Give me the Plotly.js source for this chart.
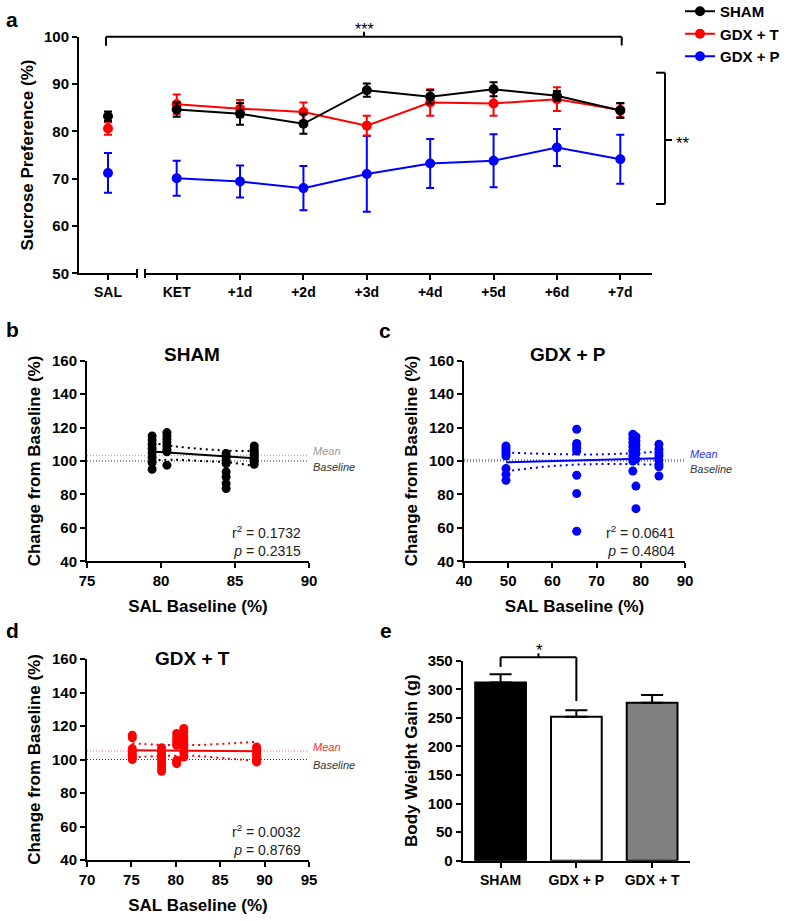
<!DOCTYPE html>
<html><head><meta charset="utf-8">
<script src="https://cdn.plot.ly/plotly-3.0.1.min.js"></script>
<style>html,body{margin:0;padding:0;background:#fff}#chart{width:787px;height:921px}</style>
</head><body><div id="chart"></div>
<script>
// ---------- DATA ----------
const salLabel = ['SAL'];
const timepoints = ['KET','+1d','+2d','+3d','+4d','+5d','+6d','+7d'];
const groups = ['SHAM','GDX + T','GDX + P'];
const salMeans = [83.2, 80.6, 71.2];
const salErrs  = [1.0, 1.3, 4.2];
const shamMeans = [84.6, 83.7, 81.6, 88.7, 87.3, 88.9, 87.5, 84.4];
const shamErrs  = [1.5, 2.3, 2.1, 1.4, 1.4, 1.5, 1.0, 1.6];
const gdxTMeans = [85.7, 84.8, 84.1, 81.2, 86.1, 85.9, 86.8, 84.5];
const gdxTErrs  = [2.1, 1.8, 2.0, 2.1, 2.8, 2.6, 2.5, 1.4];
const gdxPMeans = [70.1, 69.4, 68.0, 71.0, 73.2, 73.8, 76.6, 74.1];
const gdxPErrs  = [3.7, 3.4, 4.7, 8.0, 5.2, 5.6, 3.9, 5.2];

// panel b (SHAM)
const shamX = [79.4,79.4,79.4,79.4,79.4,79.4,79.4,79.4, 80.4,80.4,80.4,80.4,80.4,80.4,80.4,80.4,
               84.4,84.4,84.4,84.4,84.4,84.4,84.4,84.4, 86.3,86.3,86.3,86.3,86.3,86.3,86.3,86.3];
const shamY = [115,112.5,110,107.5,105,102,99,95, 117,115,113,111,109,107,105.5,97.5,
               104.5,102.5,100.5,98.5,93.5,90.5,86.5,83.5, 109,107,105.5,104,102.5,101,99.5,98];
const shamFitX = [79.4, 86.3];
const shamFitY = [105.7, 101.6];
const shamCiX = [79.4, 81, 82.8, 84.5, 86.3];
const shamCiUp = [110.8, 108.7, 107.2, 106.2, 106.0];
const shamCiLo = [100.5, 100.7, 100.0, 99.2, 97.1];
const shamMean = 103.2;
const shamStats = ['0.1732', '0.2315'];

// panel c (GDX + P)
const gdxPX = [49.5,49.5,49.5,49.5,49.5,49.5,49.5,49.5, 65.5,65.5,65.5,65.5,65.5,65.5,65.5,65.5,
               78.2,78.2,78.2,78.2,78.2,78.2,78.2,78.2, 78.9,78.9,78.9,78.9,78.9,78.9,78.9,78.9,
               84.1,84.1,84.1,84.1,84.1,84.1,84.1,84.1];
const gdxPY = [109,107.5,106,104.5,103,95.5,92,88.5, 119,110.5,109,107.5,106,91.5,80.5,58,
               116,113.5,111,108.5,106,103,100,94, 114.5,112,109.5,107,104.5,101,85,71.5,
               110,107,105,103,100.5,98,96.5,91];
const gdxPFitX = [49.5, 84.1];
const gdxPFitY = [99.2, 101.7];
const gdxPCiX = [49.5, 58, 66, 74, 84.1];
const gdxPCiUp = [105.0, 104.3, 103.9, 104.2, 105.6];
const gdxPCiLo = [93.8, 96.5, 97.9, 98.2, 97.8];
const gdxPMean = 100.8;
const gdxPStats = ['0.0641', '0.4804'];

// panel d (GDX + T)
const gdxTX = [75.1,75.1,75.1,75.1,75.1,75.1,75.1,75.1, 78.4,78.4,78.4,78.4,78.4,78.4,78.4,78.4,
               80.1,80.1,80.1,80.1,80.1,80.1,80.1,80.1, 80.9,80.9,80.9,80.9,80.9,80.9,80.9,80.9,
               89.1,89.1,89.1,89.1,89.1,89.1,89.1,89.1];
const gdxTY = [114.5,113,106.5,105,103.5,102,101,100, 107,105,103,101,99,97,95,93,
               115.5,113.5,111.5,109.5,108.5,99.5,98.5,97.5, 118.5,116.5,114,112,110,107,104,101.5,
               107.5,106,104.5,103,101.5,100,99,98.5];
const gdxTFitX = [75.1, 89.1];
const gdxTFitY = [105.5, 104.9];
const gdxTCiX = [75.1, 78, 82, 86, 89.1];
const gdxTCiUp = [109.7, 108.8, 108.6, 109.6, 110.6];
const gdxTCiLo = [101.3, 102.0, 102.2, 100.5, 99.3];
const gdxTMean = 105.1;
const gdxTStats = ['0.0032', '0.8769'];
const baselineVal = 100;

// panel e
const bwGroups = ['SHAM', 'GDX + P', 'GDX + T'];
const bwMeans = [312, 252, 276.5];
const bwErrs  = [14.5, 11.5, 13.5];

// ---------- LAYOUT HELPERS ----------
const W = 787, H = 921;
const X = p => p / W;
const Y = p => 1 - p / H;
const FONT = '"Liberation Sans", Arial, Helvetica, sans-serif';
const BLACK = '#000000', RED = '#ff0000', BLUE = '#0000ff';

function ax(extra, tsize) {
  return Object.assign({
    showline: true, linewidth: 2, linecolor: BLACK, mirror: false,
    ticks: 'outside', ticklen: 5, tickwidth: 2, tickcolor: BLACK,
    showgrid: false, zeroline: false, fixedrange: true,
    tickfont: {family: FONT, size: tsize || 15, color: BLACK, weight: 'bold'}
  }, extra);
}
function ttl(text, standoff) {
  return {text: text, standoff: standoff, font: {family: FONT, size: 17, color: BLACK, weight: 'bold'}};
}

const traces = [];
// panel a (draw blue, red, black so black is on top)
const aSeries = [
  {name: groups[2], color: BLUE, sal: salMeans[2], salErr: salErrs[2], m: gdxPMeans, e: gdxPErrs, rank: 3},
  {name: groups[1], color: RED, sal: salMeans[1], salErr: salErrs[1], m: gdxTMeans, e: gdxTErrs, rank: 2},
  {name: groups[0], color: BLACK, sal: salMeans[0], salErr: salErrs[0], m: shamMeans, e: shamErrs, rank: 1}
];
aSeries.forEach(s => {
  traces.push({
    type: 'scatter', mode: 'markers', x: salLabel, y: [s.sal], xaxis: 'x', yaxis: 'y',
    marker: {color: s.color, size: 10},
    error_y: {type: 'data', array: [s.salErr], color: s.color, thickness: 2, width: 4},
    showlegend: false, hoverinfo: 'skip', cliponaxis: false
  });
  traces.push({
    type: 'scatter', mode: 'lines+markers', x: timepoints, y: s.m, xaxis: 'x2', yaxis: 'y',
    name: s.name, legendrank: s.rank,
    line: {color: s.color, width: 2}, marker: {color: s.color, size: 10},
    error_y: {type: 'data', array: s.e, color: s.color, thickness: 2, width: 4},
    cliponaxis: false
  });
});

function scatterPanel(xa, ya, xs, ys, fitX, fitY, ciX, ciUp, ciLo, color) {
  traces.push({type: 'scatter', mode: 'markers', x: xs, y: ys, xaxis: xa, yaxis: ya,
    marker: {color: color, size: 9}, showlegend: false, hoverinfo: 'skip'});
  traces.push({type: 'scatter', mode: 'lines', x: fitX, y: fitY, xaxis: xa, yaxis: ya,
    line: {color: color, width: 2}, showlegend: false, hoverinfo: 'skip'});
  [ciUp, ciLo].forEach(c => traces.push({type: 'scatter', mode: 'lines', x: ciX, y: c, xaxis: xa, yaxis: ya,
    line: {color: color, width: 2, dash: '2px,4px', shape: 'spline'}, showlegend: false, hoverinfo: 'skip'}));
}
scatterPanel('x3', 'y3', shamX, shamY, shamFitX, shamFitY, shamCiX, shamCiUp, shamCiLo, BLACK);
scatterPanel('x4', 'y4', gdxPX, gdxPY, gdxPFitX, gdxPFitY, gdxPCiX, gdxPCiUp, gdxPCiLo, BLUE);
scatterPanel('x5', 'y5', gdxTX, gdxTY, gdxTFitX, gdxTFitY, gdxTCiX, gdxTCiUp, gdxTCiLo, RED);

// panel e
traces.push({
  type: 'bar', x: bwGroups, y: bwMeans, xaxis: 'x6', yaxis: 'y6', width: 0.67,
  marker: {color: ['#000000', '#ffffff', '#808080'], line: {color: BLACK, width: 2}},
  error_y: {type: 'data', symmetric: false, array: bwErrs, arrayminus: bwMeans.map(() => 0),
            color: BLACK, thickness: 2, width: 11},
  showlegend: false, hoverinfo: 'skip'
});

// ---------- SHAPES ----------
const shapes = [];
function pline(x0, y0, x1, y1, w) {
  shapes.push({type: 'line', xref: 'paper', yref: 'paper', x0: X(x0), y0: Y(y0), x1: X(x1), y1: Y(y1),
    line: {color: BLACK, width: w || 2}});
}
// axis break marks
pline(137, 269, 137, 278); pline(145, 269, 145, 278);
// *** bracket
pline(106, 36.7, 621.7, 36.7); pline(106, 36.7, 106, 45.7); pline(621.7, 36.7, 621.7, 45.5);
pline(364, 36.7, 364, 31.7);
// ** bracket
pline(656, 72.7, 665, 72.7); pline(665, 72.7, 665, 204); pline(656, 204, 665, 204); pline(665, 140, 672, 140);
// * bracket (panel e)
function eline(x0, x1, y0, y1) {
  shapes.push({type: 'line', xref: 'x6', yref: 'paper', x0: x0, x1: x1, y0: Y(y0), y1: Y(y1),
    line: {color: BLACK, width: 2}});
}
eline(0, 0, 667, 657.3); eline(0, 1, 657.3, 657.3); eline(1, 1, 657.3, 701); eline(0.5, 0.5, 657.3, 653.3);

// mean / baseline dotted reference lines
function refLine(xa, ya, val, color) {
  shapes.push({type: 'line', xref: xa + ' domain', yref: ya, x0: 0, x1: 1, y0: val, y1: val,
    layer: 'below', line: {color: color, width: 1, dash: '1px,2px'}});
}
refLine('x3', 'y3', shamMean, '#9a9a9a'); refLine('x3', 'y3', baselineVal, '#333333');
refLine('x4', 'y4', gdxPMean, '#6f6fff'); refLine('x4', 'y4', baselineVal, '#333333');
refLine('x5', 'y5', gdxTMean, '#ff6a6a'); refLine('x5', 'y5', baselineVal, '#333333');

// ---------- ANNOTATIONS ----------
const ann = [];
function ptext(text, x, y, size, opts) {
  ann.push(Object.assign({text: text, xref: 'paper', yref: 'paper', x: X(x), y: Y(y),
    xanchor: 'center', yanchor: 'middle', showarrow: false,
    font: {family: FONT, size: size, color: BLACK}}, opts || {}));
}
ptext('<b>a</b>', 11.5, 19.7, 21);
ptext('<b>b</b>', 12, 329.7, 21);
ptext('<b>c</b>', 385, 331, 21);
ptext('<b>d</b>', 12, 630.7, 21);
ptext('<b>e</b>', 386, 630.7, 21);
ptext('<b>SHAM</b>', 192, 355, 19);
ptext('<b>GDX + P</b>', 568.3, 355, 19);
ptext('<b>GDX + T</b>', 192.5, 658.3, 19);
ptext('***', 364, 29, 16);
ptext('**', 683, 143, 17);
ptext('*', 539.3, 650, 17);

function statText(stats, xr, y1, y2) {
  ptext('r<sup>2</sup> = ' + stats[0] + '<br><i>p</i> = ' + stats[1], xr, (y1 + y2) / 2, 14,
    {xanchor: 'right', align: 'right', borderpad: 0, font: {family: FONT, size: 14, color: '#222'}});
}
statText(shamStats, 302, 534.4, 547.8);
statText(gdxPStats, 676, 534.4, 548.4);
statText(gdxTStats, 301.7, 832.4, 848.4);

function refLabels(xa, ya, meanVal, meanColor, xs, ysM, ysB) {
  ann.push({text: '<i>Mean</i>', xref: xa + ' domain', yref: ya, x: 1, y: meanVal, xanchor: 'left', yanchor: 'middle',
    xshift: xs, yshift: ysM, borderpad: 0, showarrow: false, font: {family: FONT, size: 11, color: meanColor}});
  ann.push({text: '<i>Baseline</i>', xref: xa + ' domain', yref: ya, x: 1, y: baselineVal, xanchor: 'left', yanchor: 'middle',
    xshift: xs, yshift: ysB, borderpad: 0, showarrow: false, font: {family: FONT, size: 11, color: '#333'}});
}
refLabels('x3', 'y3', shamMean, '#9a9a9a', 3, 5, -6);
refLabels('x4', 'y4', gdxPMean, '#3030ff', 4, 6, -8);
refLabels('x5', 'y5', gdxTMean, '#ff3030', 3, 3.5, -5);

const layout = {
  width: W, height: H, margin: {l: 0, r: 0, t: 0, b: 0, autoexpand: false},
  paper_bgcolor: '#fff', plot_bgcolor: 'rgba(0,0,0,0)',
  font: {family: FONT, color: BLACK},
  showlegend: true,
  legend: {x: X(680), y: Y(-5), xanchor: 'left', yanchor: 'top', bgcolor: 'rgba(0,0,0,0)',
    font: {family: FONT, size: 15, color: BLACK, weight: 'bold'}, itemwidth: 30, tracegroupgap: 0},
  xaxis: ax({domain: [X(79), X(137)], anchor: 'y', type: 'category', range: [-0.5, 0.5]}, 14),
  xaxis2: ax({domain: [X(145), X(652)], anchor: 'y', type: 'category', categoryarray: timepoints,
    categoryorder: 'array', range: [-0.5, 7.5]}, 14),
  yaxis: ax({domain: [Y(273.3), Y(36.7)], anchor: 'x', range: [50, 100], dtick: 10,
    title: ttl('Sucrose Preference (%)', 6)}),
  xaxis3: ax({domain: [X(87), X(309)], anchor: 'y3', range: [75, 90], dtick: 5, title: ttl('SAL Baseline (%)', 12)}),
  yaxis3: ax({domain: [Y(561.3), Y(360.7)], anchor: 'x3', range: [40, 160], dtick: 20, title: ttl('Change from Baseline (%)', 7)}),
  xaxis4: ax({domain: [X(464), X(685)], anchor: 'y4', range: [40, 90], dtick: 10, title: ttl('SAL Baseline (%)', 12)}),
  yaxis4: ax({domain: [Y(561.3), Y(360.7)], anchor: 'x4', range: [40, 160], dtick: 20, title: ttl('Change from Baseline (%)', 7)}),
  xaxis5: ax({domain: [X(87), X(309)], anchor: 'y5', range: [70, 95], dtick: 5, title: ttl('SAL Baseline (%)', 12)}),
  yaxis5: ax({domain: [Y(860), Y(659)], anchor: 'x5', range: [40, 160], dtick: 20, title: ttl('Change from Baseline (%)', 7)}),
  xaxis6: ax({domain: [X(462.7), X(690)], anchor: 'y6', type: 'category', categoryarray: bwGroups,
    categoryorder: 'array', range: [-0.5, 2.5]}, 14),
  yaxis6: ax({domain: [Y(860.7), Y(660.7)], anchor: 'x6', range: [0, 350], dtick: 50,
    title: ttl('Body Weight Gain (g)', 6)}),
  shapes: shapes,
  annotations: ann
};

Plotly.newPlot('chart', traces, layout, {staticPlot: true, displayModeBar: false});
</script></body></html>
